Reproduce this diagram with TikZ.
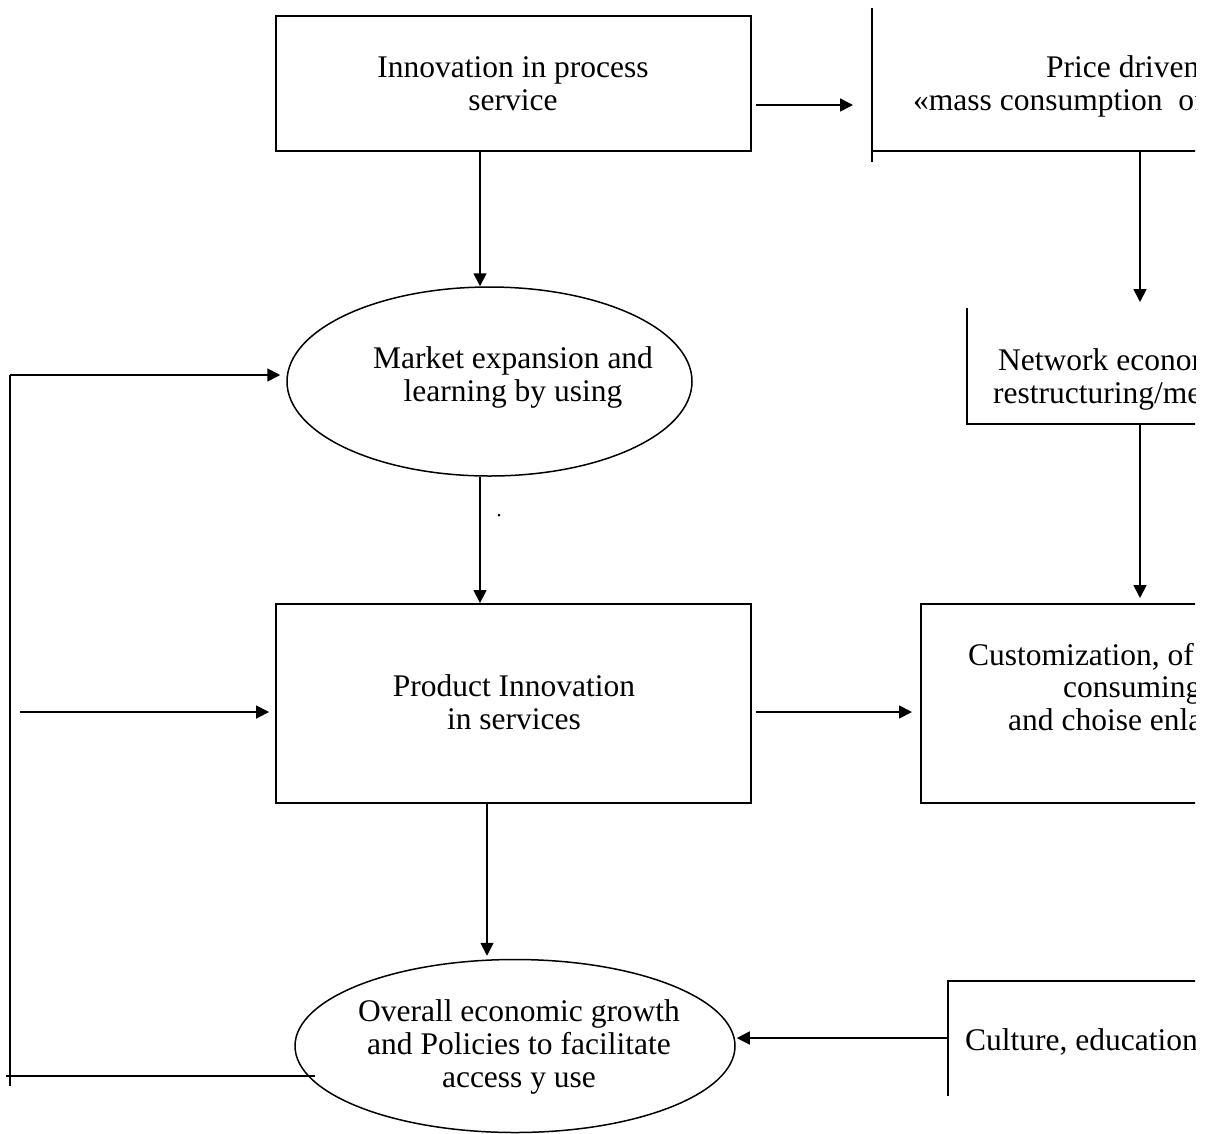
\documentclass[tikz,border=0pt]{standalone}
\usepackage{fontspec}
\setmainfont{Liberation Serif}
\usetikzlibrary{arrows.meta,shapes.geometric}
\tikzset{
  x=1pt,y=-1pt,
  txt/.style={font=\fontsize{31.5}{33}\selectfont,inner sep=0pt,align=center},
  rtxt/.style={font=\fontsize{31.5}{33}\selectfont,inner sep=0pt,anchor=base west},
  boxshape/.style={draw,line width=1.9pt,rectangle,inner sep=0pt},
  ell/.style={draw,line width=1.5pt,ellipse,inner sep=0pt},
  edge/.style={line width=2.1pt},
  arr/.style={line width=1.7pt,-{Triangle[length=13pt,width=13pt]}},
}
\begin{document}
\begin{tikzpicture}
\useasboundingbox (0,0) rectangle (1214,1133);
% main boxes
\node[boxshape,minimum width=475pt,minimum height=135pt] (b1) at (513.5,83.5) {};
\node[txt] (t1) at (513,84) {Innovation in process\\service};
\node[boxshape,minimum width=475pt,minimum height=199pt] (b2) at (513.5,703.5) {};
\node[txt] (t2) at (514,702) {Product Innovation\\in services};
% ellipses
\node[ell,minimum width=405pt,minimum height=189pt] (e1) at (489.5,381.5) {};
\node[txt] (t3) at (513,377) {Market expansion and\\learning by using};
\node[ell,minimum width=440pt,minimum height=173pt] (e2) at (515,1046) {};
\node[txt] (t4) at (519,1047) {Overall economic growth\\and Policies to facilitate\\access y use};
\fill (499,515) circle (1.5pt);
% partial boxes on the right (clipped at the page edge)
\coordinate (pc) at (872,151);
\coordinate (ntop) at (967,308);
\coordinate (nc) at (967,424);
\coordinate (cc) at (921,604);
\coordinate (uc) at (948,981);
\begin{scope}
\clip (0,0) rectangle (1195,1133);
\draw[edge] (872,8) -- (872,162);
\draw[edge] (pc) -- (1214,151);
\node[rtxt] (pt1) at (1046,77) {Price driven};
\node[rtxt] (pt2) at (913,110) {«mass consumption\ \ of};
\draw[edge] (ntop) -- (nc) -- (1214,424);
\node[rtxt] (nt1) at (998,370) {Network econom};
\node[rtxt] (nt2) at (993,403) {restructuring/me};
\draw[edge] (1214,604) -- (cc) -- (921,803) -- (1214,803);
\node[rtxt] (ct1) at (968,665) {Customization, of};
\node[rtxt] (ct2) at (1063,697) {consuming};
\node[rtxt] (ct3) at (1008,730) {and choise enla};
\draw[edge] (1214,981) -- (uc) -- (948,1096);
\node[rtxt] (ut1) at (965,1050) {Culture, education};
\end{scope}
% connectors
\draw[arr] ([xshift=-33.5pt]b1.south) -- ([xshift=-9.5pt]e1.north);
\draw[arr] ([shift={(4,21.5)}]b1.east) -- ([shift={(-19,-46)}]pc);
\draw[arr] ([xshift=268]pc) -- ([shift={(173,-6)}]ntop);
\draw[arr] ([xshift=173]nc) -- ([shift={(219,-6)}]cc);
\draw[arr] ([xshift=-9.5pt]e1.south) -- ([xshift=-33.5pt]b2.north);
\draw[arr] ([shift={(4,8.5)}]b2.east) -- ([shift={(-9,108)}]cc);
\draw[arr] ([xshift=-26.5pt]b2.south) -- ([shift={(-28,-3)}]e2.north);
\draw[arr] ([shift={(0,57)}]uc) -- ([shift={(1,-8)}]e2.east);
% feedback loop
\coordinate (fl) at (10,375);
\coordinate (fb) at (10,1086);
\draw[edge] (fb) -- (fl);
\draw[arr] (fl) -- ([xshift=-6]e1.west |- fl);
\draw[edge] (6,1076) -- (315,1076);
\coordinate (fm) at (20,712);
\draw[arr] (fm) -- ([shift={(-6,8.5)}]b2.west);
\end{tikzpicture}
\end{document}
